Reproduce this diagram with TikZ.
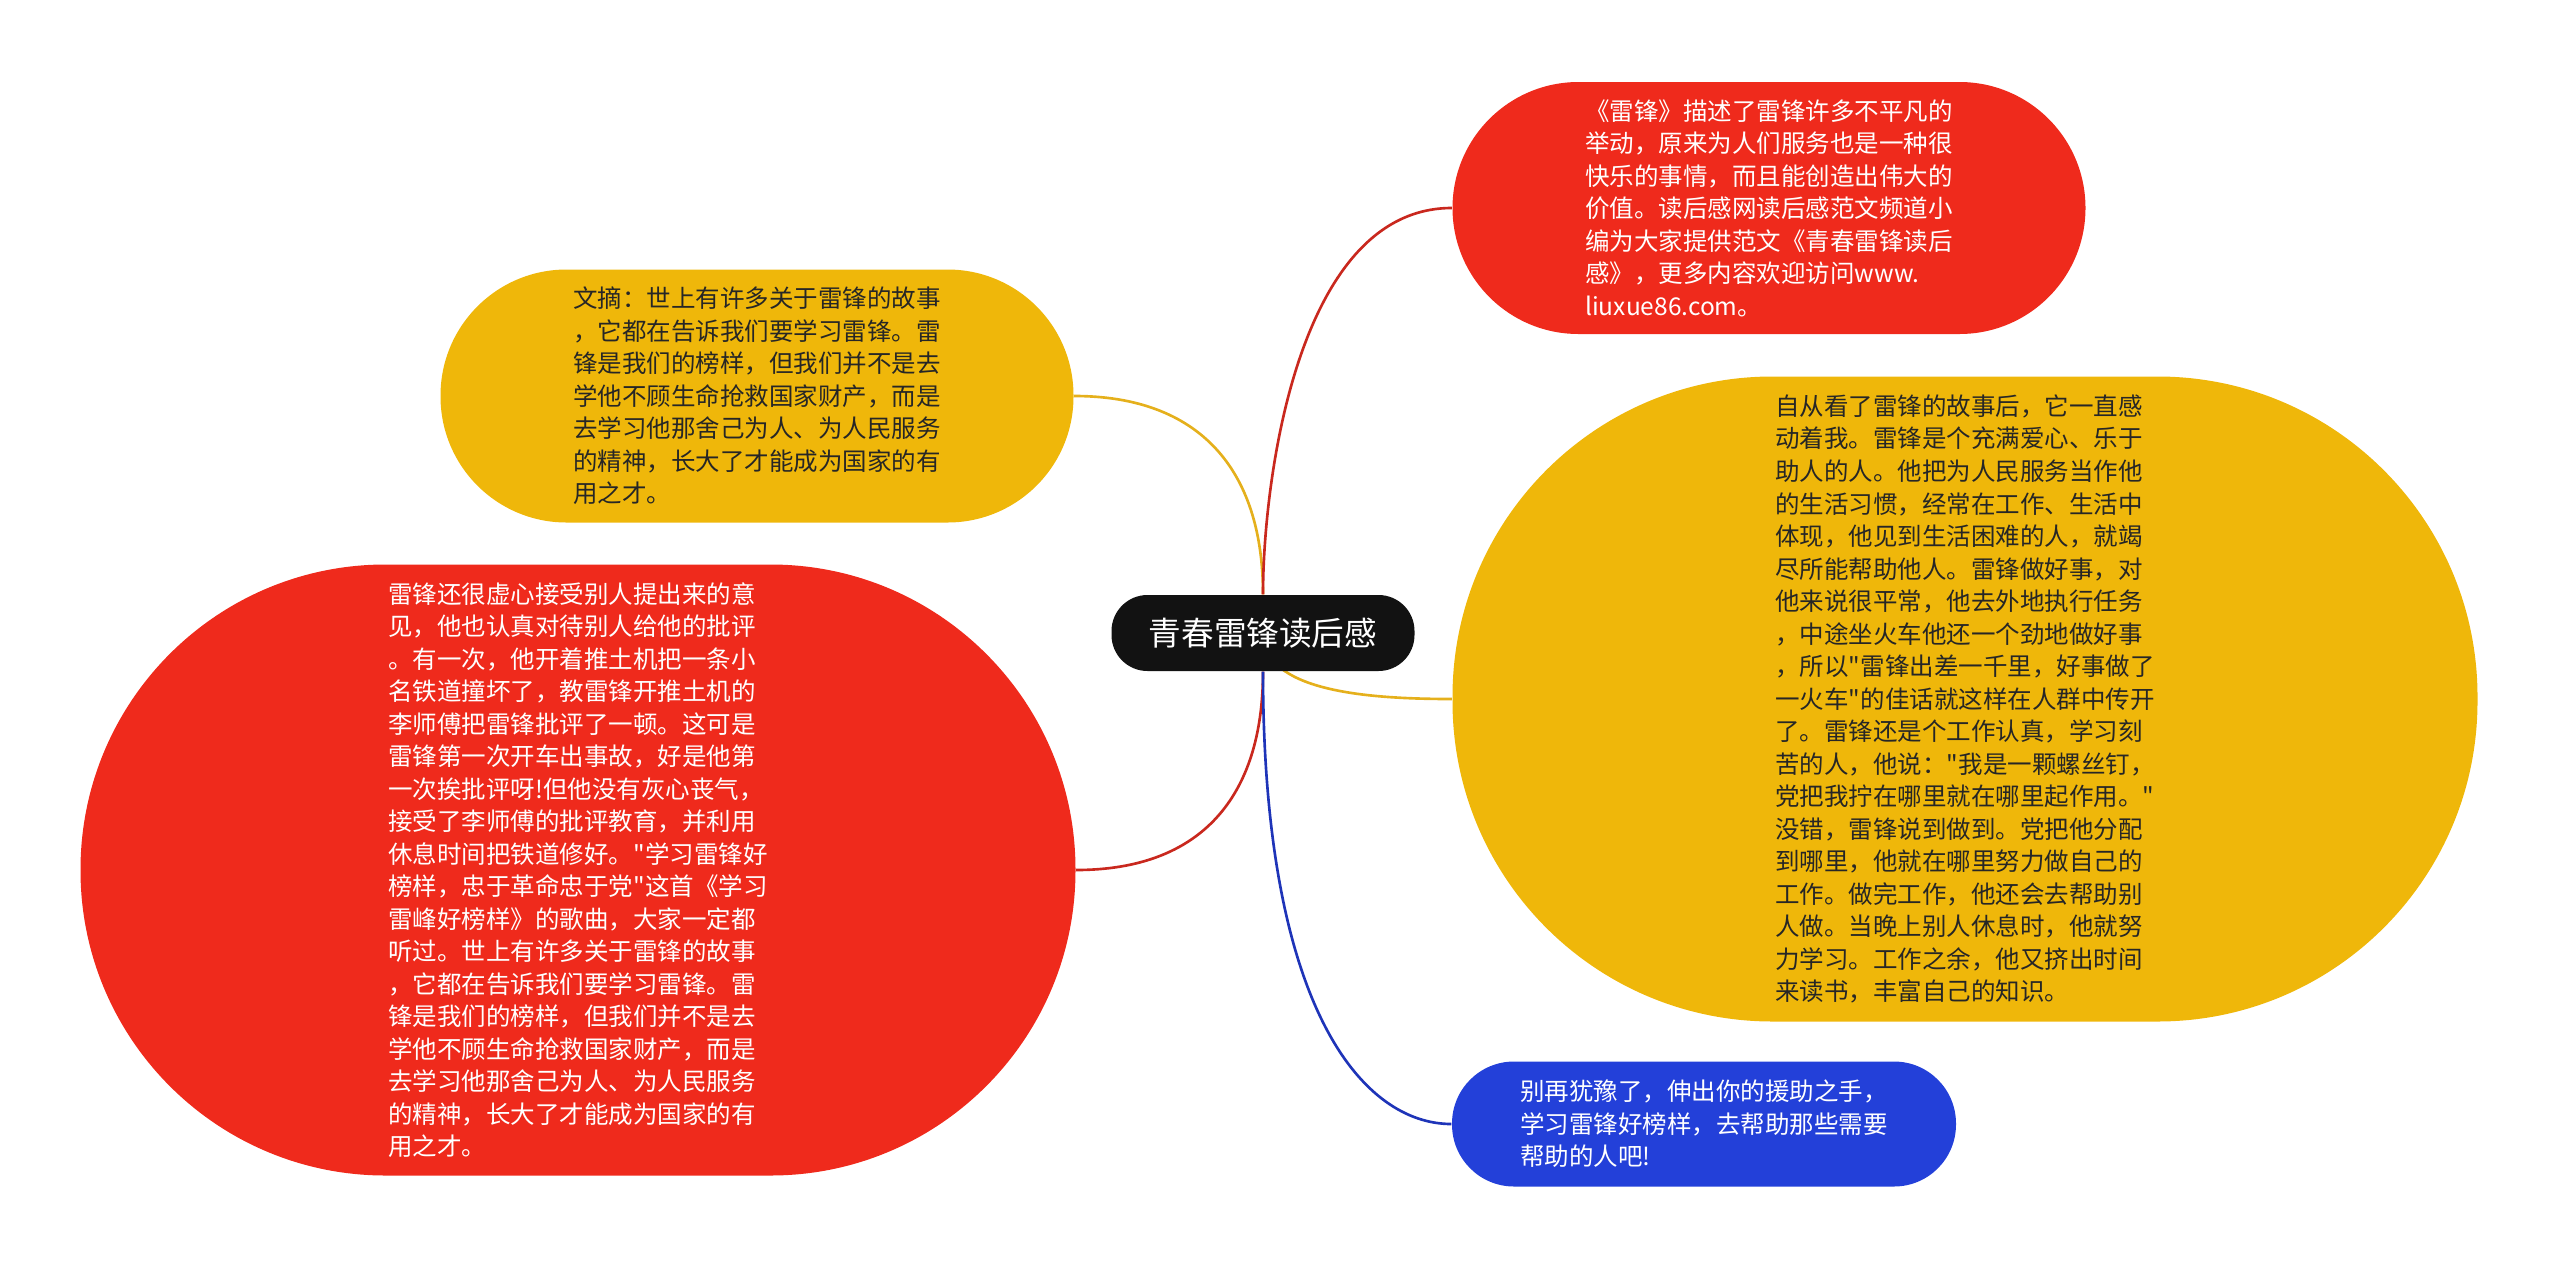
\documentclass[tikz,border=0pt]{standalone}
\usepackage{fontspec}
\setmainfont{Noto Sans CJK SC}[Ligatures=TeXOff]
\usetikzlibrary{backgrounds}
\definecolor{leired}{HTML}{EF2A1C}
\definecolor{leiyellow}{HTML}{EFB70A}
\definecolor{leiblue}{HTML}{2340D9}
\definecolor{linered}{HTML}{C9281E}
\definecolor{lineyellow}{HTML}{E5B01C}
\definecolor{lineblue}{HTML}{1E34B8}
\newcommand{\bodysize}{\fontsize{6.97pt}{9.25pt}\selectfont}
\tikzset{
  topic/.style={rectangle, inner sep=0pt, align=left, font=\bodysize},
  redtopic/.style={topic, fill=leired, text=white},
  yellowtopic/.style={topic, fill=leiyellow, text=black!85},
  bluetopic/.style={topic, fill=leiblue, text=white},
  branch/.style={line width=0.75pt}
}

\begin{document}
\begin{tikzpicture}

        \useasboundingbox (0, 0) rectangle (25.6, -12.67);

        \node[rectangle, fill=black!93, text=white, rounded corners=0.36cm, minimum width=3.03cm, minimum height=0.76cm,
            font=\fontsize{9.28pt}{11pt}\selectfont] (title) at (12.63, -6.33) {青春雷锋读后感};

        \node[yellowtopic, minimum width=6.33cm, minimum height=2.53cm, rounded corners=1.26cm] (excerpt) at (7.57, -3.96)
            {文摘：世上有许多关于雷锋的故事\\，它都在告诉我们要学习雷锋。雷\\锋是我们的榜样，但我们并不是去\\学他不顾生命抢救国家财产，而是\\去学习他那舍己为人、为人民服务\\的精神，长大了才能成为国家的有\\用之才。};

        \node[redtopic, minimum width=6.33cm, minimum height=2.52cm, rounded corners=1.26cm] (intro) at (17.69, -2.08)
            {《雷锋》描述了雷锋许多不平凡的\\举动，原来为人们服务也是一种很\\快乐的事情，而且能创造出伟大的\\价值。读后感网读后感范文频道小\\编为大家提供范文《青春雷锋读后\\感》，更多内容欢迎访问www.\\liuxue86.com。};

        \node[redtopic, minimum width=9.95cm, minimum height=6.11cm, rounded corners=3.05cm] (critic) at (5.78, -8.70)
            {雷锋还很虚心接受别人提出来的意\\见，他也认真对待别人给他的批评\\。有一次，他开着推土机把一条小\\名铁道撞坏了，教雷锋开推土机的\\李师傅把雷锋批评了一顿。这可是\\雷锋第一次开车出事故，好是他第\\一次挨批评呀!但他没有灰心丧气，\\接受了李师傅的批评教育，并利用\\休息时间把铁道修好。"学习雷锋好\\榜样，忠于革命忠于党"这首《学习\\雷峰好榜样》的歌曲，大家一定都\\听过。世上有许多关于雷锋的故事\\，它都在告诉我们要学习雷锋。雷\\锋是我们的榜样，但我们并不是去\\学他不顾生命抢救国家财产，而是\\去学习他那舍己为人、为人民服务\\的精神，长大了才能成为国家的有\\用之才。};

        \node[yellowtopic, minimum width=10.25cm, minimum height=6.45cm, rounded corners=3.2cm] (story) at (19.65, -6.99)
            {自从看了雷锋的故事后，它一直感\\动着我。雷锋是个充满爱心、乐于\\助人的人。他把为人民服务当作他\\的生活习惯，经常在工作、生活中\\体现，他见到生活困难的人，就竭\\尽所能帮助他人。雷锋做好事，对\\他来说很平常，他去外地执行任务\\，中途坐火车他还一个劲地做好事\\，所以"雷锋出差一千里，好事做了\\一火车"的佳话就这样在人群中传开\\了。雷锋还是个工作认真，学习刻\\苦的人，他说："我是一颗螺丝钉，\\党把我拧在哪里就在哪里起作用。"\\没错，雷锋说到做到。党把他分配\\到哪里，他就在哪里努力做自己的\\工作。做完工作，他还会去帮助别\\人做。当晚上别人休息时，他就努\\力学习。工作之余，他又挤出时间\\来读书，丰富自己的知识。};

        \node[bluetopic, minimum width=5.04cm, minimum height=1.25cm, rounded corners=0.62cm] (appeal) at (17.04, -11.24)
            {别再犹豫了，伸出你的援助之手，\\学习雷锋好榜样，去帮助那些需要\\帮助的人吧!};

        \begin{pgfonlayer}{background}
            \draw[branch, lineyellow] (title.north) .. controls +(0, 1.25) and +(1.25, 0) .. (excerpt.east);
            \draw[branch, linered] (title.north) .. controls +(0, 1.11) and +(-1.55, 0) .. (intro.west);
            \draw[branch, linered] (title.south) .. controls +(0, -1.25) and +(1.25, 0) .. (critic.east);
            \draw[branch, lineyellow] (title.center) .. controls +(0, -0.57) and +(-0.9, 0) .. (story.west);
            \draw[branch, lineblue] (title.south) .. controls +(0, -3.4) and +(-0.87, 0) .. (appeal.west);
        \end{pgfonlayer}

    \end{tikzpicture}
\end{document}
